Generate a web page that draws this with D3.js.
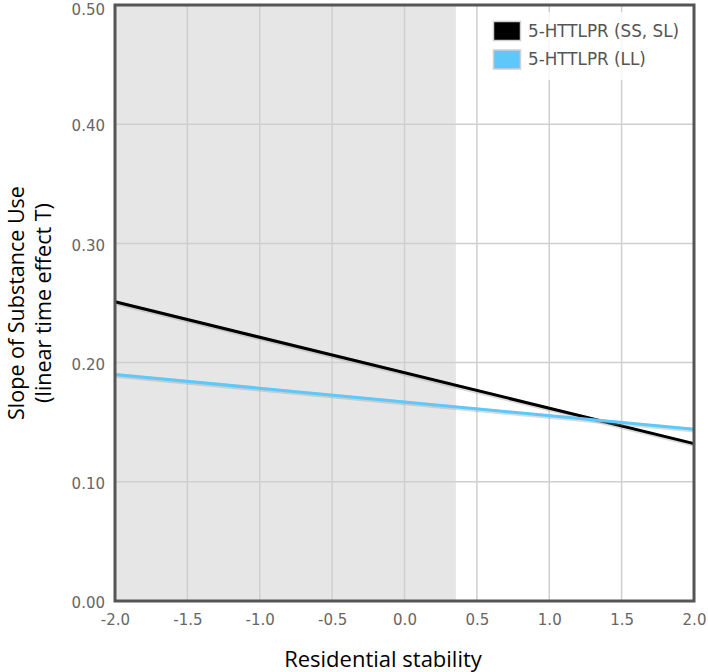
<!DOCTYPE html>
<html><head><meta charset="utf-8">
<script src="https://cdn.jsdelivr.net/npm/d3@7"></script>
<style>body{margin:0;background:#fff;} svg{display:block;}</style>
</head><body>
<svg id="chart" width="708" height="672"></svg>
<script>
const xDomain = [-2.0, 2.0];
const yDomain = [0, 0.5];
const xTicks = [-2.0, -1.5, -1.0, -0.5, 0.0, 0.5, 1.0, 1.5, 2.0];
const yTicks = [0, 0.1, 0.2, 0.3, 0.4, 0.5];
const shadeRange = [-2.0, 0.355];
const seriesNames = ["5-HTTLPR (SS, SL)", "5-HTTLPR (LL)"];
const seriesColors = ["#000000", "#5ec8fb"];
const xPoints = [-2.0, 2.0];
const ssValues = [0.251, 0.132];
const llValues = [0.190, 0.144];

const svg = d3.select("#chart");
const m = {left: 115, right: 14, top: 5, bottom: 71};
const W = 708, H = 672;
const x = d3.scaleLinear().domain(xDomain).range([m.left, W - m.right]);
const y = d3.scaleLinear().domain(yDomain).range([H - m.bottom, m.top]);

// shaded region
svg.append("rect")
  .attr("x", x(shadeRange[0])).attr("y", y(yDomain[1]))
  .attr("width", x(shadeRange[1]) - x(shadeRange[0]))
  .attr("height", y(yDomain[0]) - y(yDomain[1]))
  .attr("fill", "#e6e6e6");

// grid
const grid = svg.append("g");
grid.selectAll(".gx").data(xTicks).join("line")
  .attr("x1", d => x(d)).attr("x2", d => x(d))
  .attr("y1", y(yDomain[0])).attr("y2", y(yDomain[1]))
  .attr("stroke", "#cfcfcf").attr("stroke-width", 1.5);
grid.selectAll(".gy").data(yTicks).join("line")
  .attr("x1", x(xDomain[0])).attr("x2", x(xDomain[1]))
  .attr("y1", d => y(d)).attr("y2", d => y(d))
  .attr("stroke", "#cfcfcf").attr("stroke-width", 1.5);

// lines
const line = d3.line().x(d => x(d[0])).y(d => y(d[1]));
const series = [ssValues, llValues];
series.forEach((vals, i) => {
  const pts = xPoints.map((xv, j) => [xv, vals[j]]);
  svg.append("path").datum(pts).attr("d", line)
    .attr("fill", "none").attr("stroke", "#999").attr("stroke-opacity", 0.35)
    .attr("stroke-width", 4.5).attr("transform", "translate(0,1)");
  svg.append("path").datum(pts).attr("d", line)
    .attr("fill", "none").attr("stroke", seriesColors[i]).attr("stroke-width", 3);
});

// legend
const lg = svg.append("g");
lg.append("rect").attr("x", 482).attr("y", 12).attr("width", 207).attr("height", 68)
  .attr("fill", "#fff").attr("fill-opacity", 0.8);
seriesNames.forEach((name, i) => {
  const yy = 21 + i * 28.5;
  lg.append("rect").attr("x", 493.5).attr("y", yy + 0.5).attr("width", 27).attr("height", 19)
    .attr("fill", seriesColors[i]).attr("stroke", "#d0d0d0").attr("stroke-width", 1.5);
  lg.append("text").attr("x", 528).attr("y", yy + 10).attr("dy", "0.35em")
    .attr("font-family", "DejaVu Sans, Verdana, sans-serif").attr("font-size", 16.8)
    .attr("fill", "#555").text(name);
});

// border
svg.append("rect")
  .attr("x", x(xDomain[0])).attr("y", y(yDomain[1]))
  .attr("width", x(xDomain[1]) - x(xDomain[0]))
  .attr("height", y(yDomain[0]) - y(yDomain[1]))
  .attr("fill", "none").attr("stroke", "#555").attr("stroke-width", 3);

// axes
const xAxis = d3.axisBottom(x).tickValues(xTicks).tickFormat(d3.format(".1f")).tickSize(0).tickPadding(13);
const gx = svg.append("g").attr("transform", `translate(0,${y(0)})`).call(xAxis);
const yAxis = d3.axisLeft(y).tickValues(yTicks).tickFormat(d3.format(".2f")).tickSize(0).tickPadding(10);
const gy = svg.append("g").attr("transform", `translate(${x(xDomain[0])},0)`).call(yAxis);
[gx, gy].forEach(g => {
  g.select(".domain").remove();
  g.selectAll("text").attr("font-family", "DejaVu Sans, Verdana, sans-serif")
    .attr("font-size", 15).attr("fill", "#666");
});
gx.selectAll("text").text(d => d3.format(".1f")(d).replace("−", "-"));
gy.selectAll(".tick text").attr("dy", d => d === yDomain[1] ? "0.62em" : "0.45em");

// titles
svg.append("text").attr("x", 383).attr("y", 667)
  .attr("text-anchor", "middle").attr("font-family", "Open Sans, Noto Sans, sans-serif")
  .attr("font-size", 22).attr("fill", "#000").text("Residential stability");
const yt = svg.append("text").attr("transform", "translate(0,303) rotate(-90)")
  .attr("text-anchor", "middle").attr("font-family", "Open Sans, Noto Sans, sans-serif")
  .attr("font-size", 21.5).attr("fill", "#000");
yt.append("tspan").attr("x", 0).attr("y", 24).text("Slope of Substance Use");
yt.append("tspan").attr("x", 0).attr("y", 51).text("(linear time effect T)");
</script>
</body></html>
